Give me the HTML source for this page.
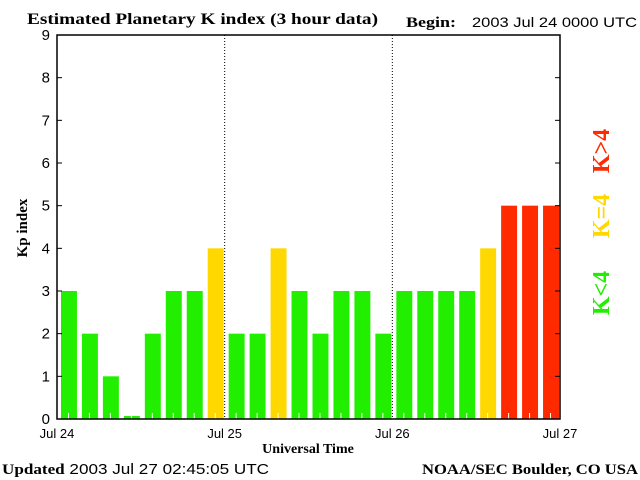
<!DOCTYPE html>
<html><head><meta charset="utf-8"><style>
body{margin:0;background:#fff;width:640px;height:480px;overflow:hidden}
svg{display:block}
text{font-family:"Liberation Sans",sans-serif}
.serif{font-family:"Liberation Serif",serif;font-weight:bold}
</style></head><body>
<svg id="chart" width="640" height="480">
<text class="serif" x="27" y="24" font-size="16" textLength="351" lengthAdjust="spacingAndGlyphs">Estimated Planetary K index (3 hour data)</text>
<text class="serif" x="406" y="27" font-size="15" textLength="50" lengthAdjust="spacingAndGlyphs">Begin:</text>
<text x="472" y="27" font-size="14" textLength="165" lengthAdjust="spacingAndGlyphs">2003 Jul 24 0000 UTC</text>
<text class="serif" transform="translate(27,228) rotate(-90)" text-anchor="middle" font-size="15">Kp index</text>
<text class="serif" x="308" y="453" text-anchor="middle" font-size="14">Universal Time</text>
<text x="2" y="474" font-size="15" textLength="267" lengthAdjust="spacingAndGlyphs"><tspan class="serif">Updated</tspan> 2003 Jul 27 02:45:05 UTC</text>
<text class="serif" x="638" y="474" text-anchor="end" font-size="15" textLength="216" lengthAdjust="spacingAndGlyphs">NOAA/SEC Boulder, CO USA</text>
<text class="serif" transform="translate(609,151) rotate(-90)" text-anchor="middle" font-size="24" fill="#ff2a00">K&gt;4</text>
<text class="serif" transform="translate(609,216) rotate(-90)" text-anchor="middle" font-size="24" fill="#ffd800">K=4</text>
<text class="serif" transform="translate(609,293) rotate(-90)" text-anchor="middle" font-size="24" fill="#22ee00">K&lt;4</text>
<g id="plot"></g>
</svg>
<script>
const dayLabels = ["Jul 24","Jul 25","Jul 26","Jul 27"];
const kpValues = [3,2,1,0.07,2,3,3,4, 2,2,4,3,2,3,3,2, 3,3,3,3,4,5,5,5];
const yTicks = [0,1,2,3,4,5,6,7,8,9];
const L=57,R=560,T=35,B=419,yMax=9;
const ns="http://www.w3.org/2000/svg";
const g=document.getElementById('plot');
function y(v){return B-(B-T)*v/yMax;}
function x(i){return L+(R-L)*i/kpValues.length;}
function mk(tag,a){const e=document.createElementNS(ns,tag);for(const k in a)e.setAttribute(k,a[k]);g.appendChild(e);return e;}
const slot=(R-L)/kpValues.length;
kpValues.forEach((v,i)=>{
  const c=v>4?"#ff2a00":(v==4?"#ffd800":"#22ee00");
  const r=mk('rect',{x:x(i)+4,y:y(v),width:slot-5,height:B-y(v),fill:c});
  
  
  const t=mk('line',{x1:x(i)+slot/2+1,x2:x(i)+slot/2+1,y1:B,y2:B-6,stroke:"#fff"});
  
  
});
for(let d=1;d<dayLabels.length-1;d++){
  const xx=L+(R-L)*d/(dayLabels.length-1);
  const l=mk('line',{x1:xx,x2:xx,y1:T,y2:B,stroke:"#000","stroke-dasharray":"1,2"});
  
  
}
dayLabels.forEach((s,d)=>{
  const xx=L+(R-L)*d/(dayLabels.length-1);
  const t=mk('text',{x:xx,y:438,"text-anchor":"middle","font-size":13});
  t.textContent=s;
  
  
});
yTicks.forEach(v=>{
  const t=mk('text',{x:50,y:y(v)+5,"text-anchor":"end","font-size":15});
  t.textContent=v;
  
  
  const a=mk('line',{x1:L,x2:L+5,y1:y(v),y2:y(v),stroke:"#000"});
  
  
  const b=mk('line',{x1:R-5,x2:R,y1:y(v),y2:y(v),stroke:"#000"});
  
  
});
const f=mk('rect',{x:L,y:T,width:R-L,height:B-T,fill:"none",stroke:"#000","stroke-width":1.5});


</script>
</body></html>
